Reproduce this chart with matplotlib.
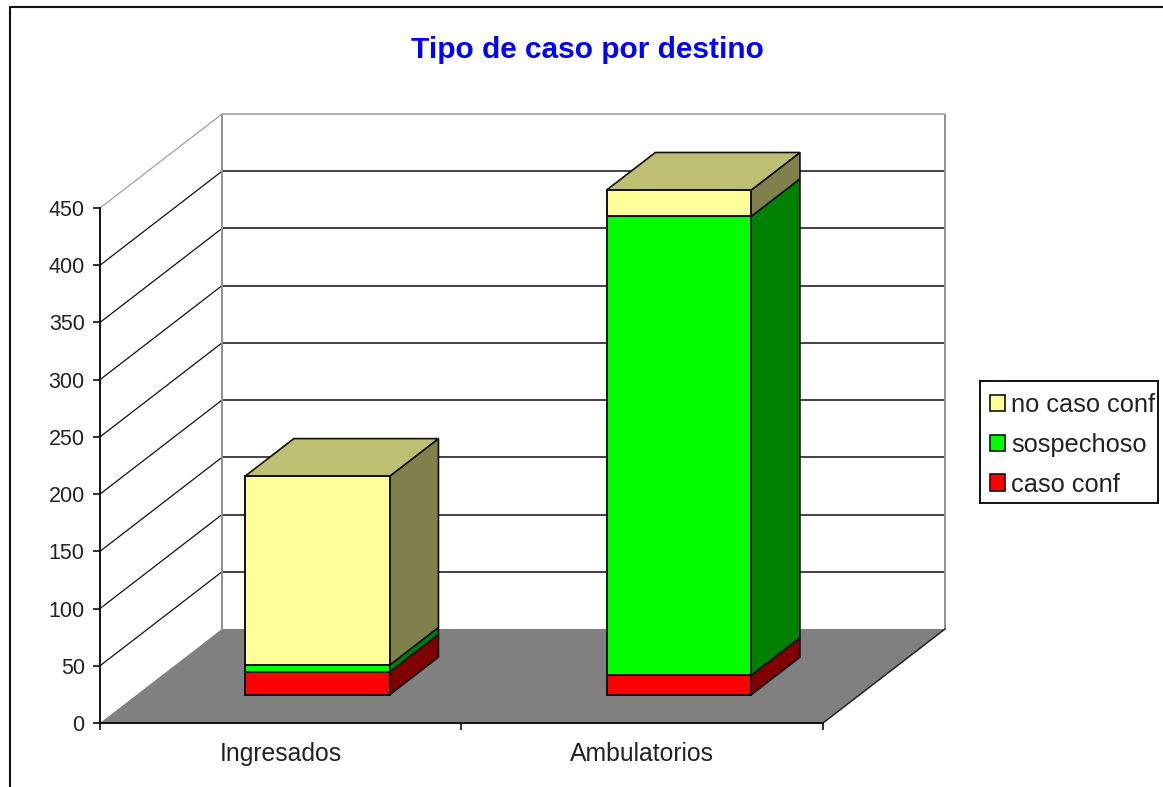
import matplotlib
matplotlib.use('Agg')
import matplotlib.pyplot as plt
from matplotlib.patches import Patch, Polygon, Rectangle
from matplotlib.transforms import Affine2D

# Datos
categories = ['Ingresados', 'Ambulatorios']
caso_conf = [20, 17]
sospechoso = [6, 401]
no_caso_conf = [165, 23]
yticks = list(range(0, 451, 50))

series = [
    ('caso conf', caso_conf, '#FF0000', '#800000', '#C00000'),
    ('sospechoso', sospechoso, '#00FF00', '#008000', '#00C000'),
    ('no caso conf', no_caso_conf, '#FFFF99', '#80804D', '#BFBF73'),
]

W, H = 1163, 787
depth_x, depth_y = 122, 94  # desplazamiento de la pared del fondo, en px
bar_width = 0.4
d_front, d_back = 0.3, 0.7

plt.rcParams['font.family'] = ['Liberation Sans', 'DejaVu Sans']

fig = plt.figure(figsize=(W / 100, H / 100), dpi=100)
ax = fig.add_axes([100 / W, (H - 723) / H, 723 / W, 515 / H])
ax.set_xlim(0, 2)
ax.set_ylim(0, 450)
ax.patch.set_alpha(0)


def depth_tr(d):
    return ax.transData + Affine2D().translate(d * depth_x, d * depth_y)


def to_px(x, v, d):
    return depth_tr(d).transform((x, v))


def face(points, **kw):
    # caras en perspectiva, en coordenadas de pantalla
    kw.setdefault('clip_on', False)
    p = Polygon([to_px(*pt) for pt in points], closed=True, **kw)
    p.set_transform(Affine2D())
    ax.add_artist(p)
    return p


# Suelo
face([(0, 0, 0), (2, 0, 0), (2, 0, 1), (0, 0, 1)], facecolor='#808080', edgecolor='none', zorder=1)
ax.plot(*zip(to_px(2, 0, 0), to_px(2, 0, 1)), transform=Affine2D(), color='#222222', lw=1.1,
        clip_on=False, zorder=1.5)

# Rejilla: pared del fondo y pared izquierda
for t in yticks[1:]:
    c = '#A0A0A0' if t == 450 else '#111111'
    ax.hlines(t, 0, 2, transform=depth_tr(1), color=c if t == 450 else '#222222', lw=1.2,
              clip_on=False, zorder=1.2)
    ax.plot(*zip(to_px(0, t, 0), to_px(0, t, 1)), transform=Affine2D(), color=c, lw=0.9,
            clip_on=False, zorder=1.2)
ax.vlines([0, 2], 0, 450, transform=depth_tr(1), color='#909090', lw=1.4, clip_on=False, zorder=1.3)

# Barras apiladas
x_pos = [0.5, 1.5]
bottom = [0, 0]
for name, vals, color, side, top in series:
    ax.bar(x_pos, vals, bar_width, bottom=bottom, color=color, edgecolor='#111111', lw=1.4,
           transform=depth_tr(d_front), clip_on=False, zorder=3)
    for x, v, b in zip(x_pos, vals, bottom):
        xr = x + bar_width / 2
        face([(xr, b, d_front), (xr, b, d_back), (xr, b + v, d_back), (xr, b + v, d_front)],
             facecolor=side, edgecolor='#111111', lw=1.2, zorder=2.8)
    bottom = [b + v for b, v in zip(bottom, vals)]

# Tapa superior de cada barra
for x, b in zip(x_pos, bottom):
    xl, xr = x - bar_width / 2, x + bar_width / 2
    face([(xl, b, d_front), (xr, b, d_front), (xr, b, d_back), (xl, b, d_back)],
         facecolor=series[-1][4], edgecolor='#111111', lw=1.2, zorder=2.9)

# Ejes
for s in ['top', 'right']:
    ax.spines[s].set_visible(False)
for s in ['left', 'bottom']:
    ax.spines[s].set_linewidth(1.4)
    ax.spines[s].set_color('#111111')
    ax.spines[s].set_zorder(4)
ax.set_yticks(yticks)
ax.tick_params(axis='y', length=5, width=1.2, labelsize=15.5, pad=6, color='#111111', labelcolor='#222222')
ax.set_xticks([0, 1, 2])
ax.set_xticklabels([])
ax.tick_params(axis='x', which='major', length=5, width=1.2, color='#111111')
ax.set_xticks(x_pos, minor=True)
ax.set_xticklabels(categories, minor=True)
ax.tick_params(axis='x', which='minor', length=0, labelsize=17.8, pad=14, labelcolor='#222222')

fig.text(587 / W, 1 - 50 / H, 'Tipo de caso por destino', color='#0000FF', fontsize=21.5,
         fontweight='bold', ha='center', va='center')

# Leyenda: marco aparte, porque el texto casi toca el borde derecho
fig.add_artist(Rectangle((980 / W, 1 - 503 / H), 178 / W, 122 / H, transform=fig.transFigure,
                         facecolor='white', edgecolor='#111111', lw=1.4))
handles = [Patch(facecolor=c, edgecolor='#111111', lw=1.2, label=n) for n, _, c, _, _ in reversed(series)]
leg = fig.legend(handles=handles, loc='upper left', bbox_to_anchor=(990 / W, 1 - 393 / H),
                 borderaxespad=0, borderpad=0, frameon=False, fontsize=18.3,
                 handlelength=0.6, handleheight=0.6, handletextpad=0.24,
                 labelspacing=0.62, labelcolor='#222222')
leg.set_zorder(5)

# Marco de la imagen
fig.add_artist(plt.Line2D([10 / W, 10 / W, 1], [0, 1 - 7 / H, 1 - 7 / H], color='#111111', lw=1.5))

fig.savefig('out.png', dpi=100)
